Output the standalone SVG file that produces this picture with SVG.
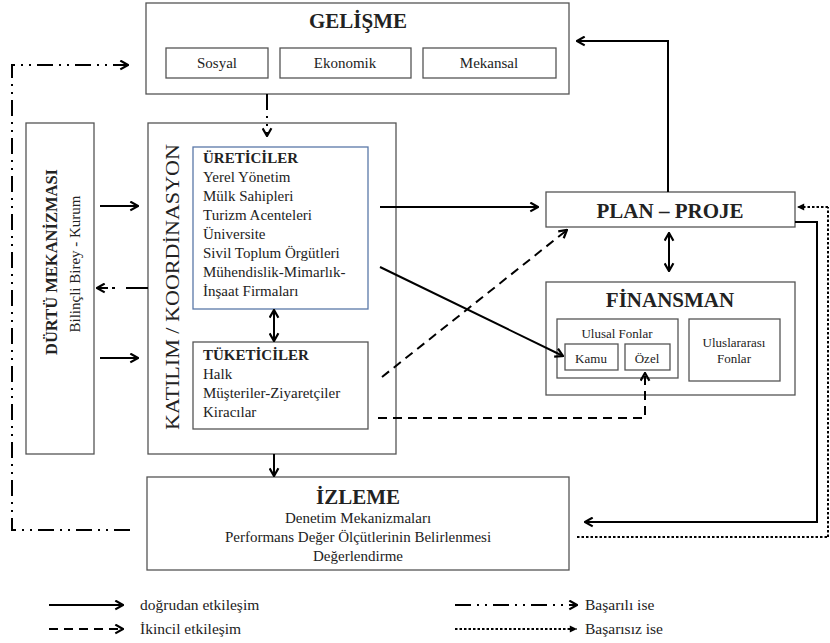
<svg xmlns="http://www.w3.org/2000/svg" width="830" height="643" viewBox="0 0 830 643" font-family="'Liberation Serif', 'DejaVu Serif', 'Noto Serif', serif">
<defs>
<style>
.box{fill:#fff;stroke:#555;stroke-width:1.3}
.ubox{fill:#fff;stroke:#5a78a8;stroke-width:1.3}
text{font-family:'Liberation Serif','DejaVu Serif','Noto Serif',serif;fill:#222}
.title{font-size:21px;font-weight:bold;text-anchor:middle}
.sub{font-size:15px;text-anchor:middle}
.lst{font-size:15px}
.small{font-size:13px;text-anchor:middle}
.leg{font-size:15.5px}
.c{fill:none;stroke:#000;stroke-width:2}
.dash{stroke-dasharray:9 6}
.dd{stroke-dasharray:16 6 2 6 2 6}
.dot{stroke-dasharray:2.5 2}
</style>
<marker id="a" viewBox="0 0 10 10" refX="9" refY="5" markerWidth="11" markerHeight="11" markerUnits="userSpaceOnUse" orient="auto-start-reverse">
<path d="M2,1 L9,5 L2,9" fill="none" stroke="#000" stroke-width="2"/>
</marker>
<marker id="f" viewBox="0 0 10 10" refX="9" refY="5" markerWidth="9" markerHeight="9" markerUnits="userSpaceOnUse" orient="auto">
<path d="M1,1 L9,5 L1,9 Z" fill="#000"/>
</marker>
</defs>
<rect width="830" height="643" fill="#fff"/>

<g id="gelisme">
<rect class="box" x="146" y="3" width="423" height="91"/>
<text class="title" x="358" y="28">GELİŞME</text>
<rect class="box" x="166" y="48" width="102" height="30"/>
<text class="sub" x="217" y="68">Sosyal</text>
<rect class="box" x="280" y="48" width="131" height="30"/>
<text class="sub" x="345" y="68">Ekonomik</text>
<rect class="box" x="423" y="48" width="133" height="30"/>
<text class="sub" x="489" y="68">Mekansal</text>
</g>

<g id="durtu">
<rect class="box" x="26" y="123" width="68" height="331"/>
<text transform="translate(57,262) rotate(-90)" text-anchor="middle" font-size="16.5" font-weight="bold">DÜRTÜ MEKANİZMASI</text>
<text transform="translate(80,264) rotate(-90)" text-anchor="middle" font-size="15">Bilinçli Birey - Kurum</text>
</g>

<g id="katilim">
<rect class="box" x="148" y="123" width="248" height="331"/>
<text transform="translate(179,287) rotate(-90)" text-anchor="middle" font-size="18" textLength="286" lengthAdjust="spacingAndGlyphs">KATILIM / KOORDİNASYON</text>
</g>

<g id="ureticiler">
<rect class="ubox" x="193" y="147" width="175" height="162"/>
<text class="lst" x="203" y="163" font-weight="bold" font-size="12.5">ÜRETİCİLER</text>
<text class="lst" x="203" y="182">Yerel Yönetim</text>
<text class="lst" x="203" y="201">Mülk Sahipleri</text>
<text class="lst" x="203" y="220">Turizm Acenteleri</text>
<text class="lst" x="203" y="239">Üniversite</text>
<text class="lst" x="203" y="258">Sivil Toplum Örgütleri</text>
<text class="lst" x="203" y="277">Mühendislik-Mimarlık-</text>
<text class="lst" x="203" y="296">İnşaat Firmaları</text>
</g>

<g id="tuketiciler">
<rect class="box" x="193" y="342" width="175" height="87"/>
<text class="lst" x="203" y="360" font-weight="bold" font-size="15">TÜKETİCİLER</text>
<text class="lst" x="203" y="379">Halk</text>
<text class="lst" x="203" y="398">Müşteriler-Ziyaretçiler</text>
<text class="lst" x="203" y="417">Kiracılar</text>
</g>

<g id="plan">
<rect class="box" x="546" y="192" width="249" height="35"/>
<text class="title" x="670" y="218">PLAN – PROJE</text>
</g>

<g id="finansman">
<rect class="box" x="546" y="282" width="249" height="113"/>
<text class="title" x="670" y="307">FİNANSMAN</text>
<rect class="box" x="557" y="319" width="121" height="59"/>
<text class="small" x="617" y="338">Ulusal Fonlar</text>
<rect class="box" x="565" y="344" width="53" height="26"/>
<text class="small" x="591" y="363">Kamu</text>
<rect class="box" x="625" y="344" width="45" height="26"/>
<text class="small" x="647" y="363">Özel</text>
<rect class="box" x="689" y="319" width="91" height="62"/>
<text class="small" x="734" y="347">Uluslararası</text>
<text class="small" x="734" y="363">Fonlar</text>
</g>

<g id="izleme">
<rect class="box" x="147" y="477" width="422" height="93"/>
<text class="title" x="358" y="504" font-size="23">İZLEME</text>
<text class="sub" x="358" y="523">Denetim Mekanizmaları</text>
<text class="sub" x="358" y="542">Performans Değer Ölçütlerinin  Belirlenmesi</text>
<text class="sub" x="358" y="561">Değerlendirme</text>
</g>

<g id="connectors">
<path class="c dd" d="M267,94 L267,136" marker-end="url(#a)"/>
<path class="c" d="M100,206 L138,206" marker-end="url(#a)"/>
<path class="c" d="M100,358 L138,358" marker-end="url(#a)"/>
<path class="c" d="M148,288 L126,288 M115,288 L112,288"/>
<path class="c" d="M108,288 L97,288" marker-end="url(#a)"/>
<path class="c dd" d="M130,530 L12,530 L12,65 L128,65" marker-end="url(#a)"/>
<path class="c" d="M380,207 L538,207" marker-end="url(#a)"/>
<path class="c" d="M668,192 L668,41 L577,41" marker-end="url(#a)"/>
<path class="c" d="M669,233 L669,271" marker-start="url(#a)" marker-end="url(#a)"/>
<path class="c" d="M274,310 L274,341" marker-start="url(#a)" marker-end="url(#a)"/>
<path class="c" d="M274,454 L274,476" marker-end="url(#a)"/>
<path class="c" d="M380,267 L563,356" marker-end="url(#a)"/>
<path class="c dash" d="M382,377 L567,230" marker-end="url(#a)"/>
<path class="c dash" d="M378,418 L645,418 L645,373" marker-end="url(#a)"/>
<path class="c" d="M795,222 L817,222 L817,522 L585,522" marker-end="url(#a)"/>
<path class="c dot" d="M577,537 L828,537" stroke-width="3"/>
<path class="c dot" d="M828,537 L828,207" stroke-width="1" stroke="#444"/>
<path class="c dot" d="M828,207 L797,207" marker-end="url(#f)"/>
</g>

<g id="legend">
<path class="c" d="M49,605 L123,605" marker-end="url(#a)"/>
<text class="leg" x="140" y="610">doğrudan etkileşim</text>
<path class="c dash" d="M49,629 L123,629" marker-end="url(#a)" stroke-width="3"/>
<text class="leg" x="140" y="634">İkincil etkileşim</text>
<path class="c dd" d="M455,605 L577,605" marker-end="url(#a)"/>
<text class="leg" x="585" y="610">Başarılı ise</text>
<path class="c dot" d="M455,629 L577,629" marker-end="url(#f)"/>
<text class="leg" x="585" y="634">Başarısız ise</text>
</g>
</svg>
